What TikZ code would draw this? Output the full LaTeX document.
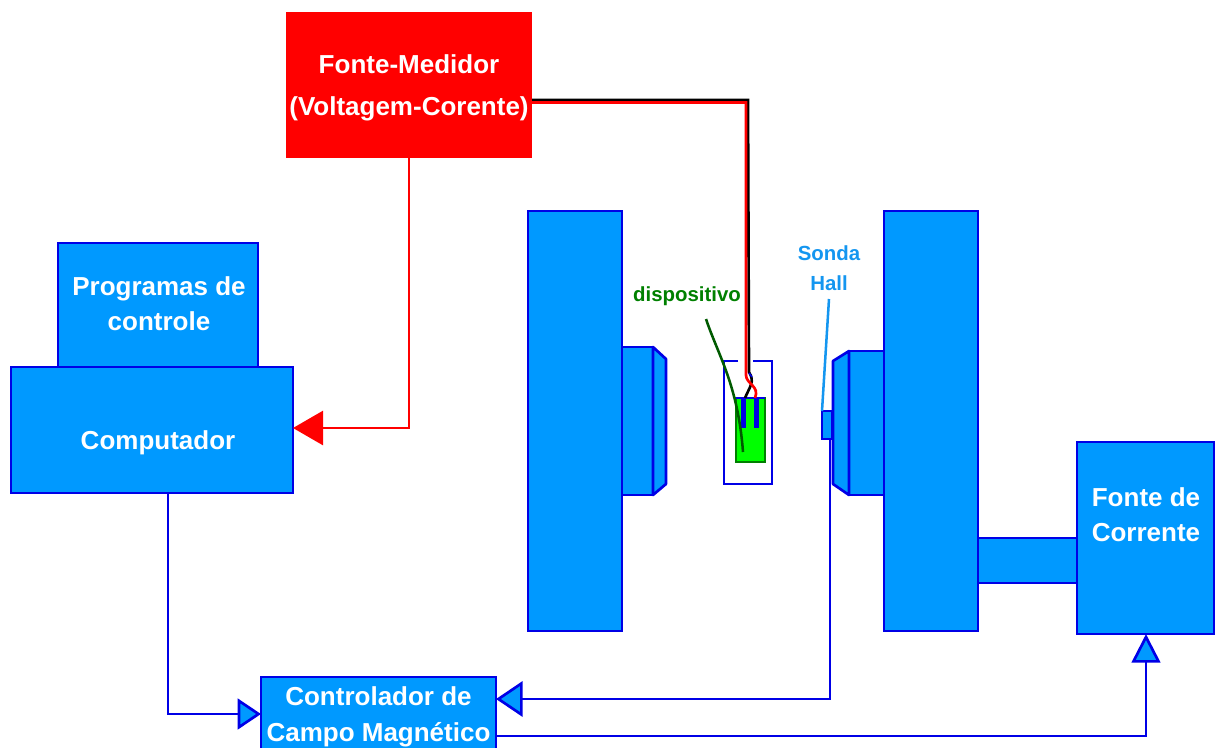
\documentclass[tikz,border=0pt]{standalone}
\usepackage{fontspec}
\setmainfont{Liberation Sans}
\usetikzlibrary{arrows.meta,calc}
\definecolor{fillblue}{RGB}{0,153,255}
\definecolor{edgeblue}{RGB}{0,0,230}
\definecolor{devgreen}{RGB}{0,255,0}
\definecolor{labgreen}{RGB}{0,128,0}
\definecolor{ptrgreen}{RGB}{0,90,0}
\definecolor{halllab}{RGB}{20,150,240}
\tikzset{
  x=0.75pt,y=-0.75pt,
  bluebox/.style={draw=edgeblue,fill=fillblue,line width=2pt,inner sep=0pt,outer sep=0pt,anchor=north west,
     text=white,font=\bfseries\fontsize{19.5}{26}\selectfont,align=center},
  redbox/.style={bluebox,draw=none,fill=red},
  boxtext/.style={text=white,font=\bfseries\fontsize{19.5}{26}\selectfont,align=center,inner sep=0pt},
  bluewire/.style={draw=edgeblue,line width=2pt},
  redwire/.style={draw=red,line width=2pt},
  bluetip/.style 2 args={-{Triangle[length=#1,width=#2,fill=fillblue,line width=2pt]}},
  redtip/.style={-{Triangle[length=22.5pt,width=25.5pt,fill=red]}},
  smalllabel/.style={font=\bfseries\fontsize{15.3}{22.5}\selectfont,align=center,inner sep=0pt},
}
\begin{document}
\begin{tikzpicture}
\useasboundingbox (0,0) rectangle (1215,747);
\clip (0,0) rectangle (1215,747);
% instrument boxes
\node[redbox,minimum width=184.5pt,minimum height=109.5pt] (fonte) at (286,12) {};
\node[boxtext] (fontetext) at (409,87.5) {Fonte-Medidor\\[5.25pt](Voltagem-Corente)};
\node[bluebox,minimum width=150pt,minimum height=93.75pt] (prog) at (58,243) {};
\node[boxtext] (progtext) at (159,303.5) {Programas de\\controle};
\node[bluebox,minimum width=211.5pt,minimum height=94.5pt] (comp) at (11,367) {};
\node[boxtext] (comptext) at (158,443) {Computador};
\node[bluebox,minimum width=176.25pt,minimum height=60pt] (ctrl) at (261,677) {Controlador de\\[1pt]Campo Magnético};
\node[bluebox,minimum width=102.75pt,minimum height=144pt] (corr) at (1077,442) {};
\node[boxtext] (corrtext) at (1146,514.5) {Fonte de\\Corrente};
% magnet
\node[bluebox,minimum width=70.5pt,minimum height=315pt] (magL) at (528,211) {};
\node[bluebox,minimum width=70.5pt,minimum height=315pt] (magR) at (884,211) {};
\node[bluebox,minimum width=74.25pt,minimum height=33.75pt] (yoke) at (978,538) {};
\node[bluebox,minimum width=23.25pt,minimum height=111pt] (poleL) at (622,347) {};
\node[bluebox,minimum width=26.25pt,minimum height=108pt] (poleR) at (849,351) {};
\draw[bluewire,fill=fillblue,line join=round] (poleL.north east) -- (666,359) -- (666,484) -- (poleL.south east) -- cycle;
\draw[bluewire,fill=fillblue,line join=round] (poleR.north west) -- (833,361) -- (833,484) -- (poleR.south west) -- cycle;
% sample holder
\coordinate (gapL) at (738,361);
\coordinate (gapR) at (753,361);
\draw[bluewire] (gapL) -- (724,361) -- (724,484) -- (772,484) -- (772,361) -- (gapR);
\node[draw=labgreen,fill=devgreen,line width=1.2pt,inner sep=0pt,outer sep=0pt,minimum width=21.75pt,minimum height=48pt,anchor=north west] (dev) at (736,398) {};
\node[draw=edgeblue,fill=edgeblue,line width=0.3pt,inner sep=0pt,outer sep=0pt,minimum width=3.4pt,minimum height=22pt,anchor=north west] (padL) at (741,398) {};
\node[draw=edgeblue,fill=edgeblue,line width=0.3pt,inner sep=0pt,outer sep=0pt,minimum width=3.4pt,minimum height=22pt,anchor=north west] (padR) at (754,398) {};
\draw[edgeblue,line width=1.2pt] (dev.north west) -- (dev.north east);
% hall probe
\node[bluebox,minimum width=7.5pt,minimum height=21pt] (hall) at (822,411) {};
% wires
\coordinate (wireA) at (748,100);
\coordinate (wireB) at (746,102.5);
\coordinate (mark) at (749,373);
\draw[black,line width=2pt] (fonte.east |- wireA) -- (wireA) -- (749,372) .. controls (755,382) and (750,386) .. (745,398);
\draw[edgeblue,line width=1.2pt] (mark) -- (752,377);
\draw[red,line width=2pt] (fonte.east |- wireB) -- (wireB) -- (746,375) .. controls (746,384) and (760,386) .. (755,398);
% signal lines
\coordinate (rc) at (409,428);
\draw[redwire,redtip] (fonte.south -| rc) -- (rc) -- (comp.east |- rc);
\coordinate (c1) at (168,714);
\draw[bluewire,bluetip={17.5pt}{23pt}] (comp.south -| c1) -- (c1) -- (ctrl.west |- c1);
\coordinate (c2) at (830,699);
\draw[bluewire,bluetip={20pt}{26.5pt}] (hall.south -| c2) -- (c2) -- (ctrl.east |- c2);
\coordinate (c3) at (1146,736);
\draw[bluewire,bluetip={21.5pt}{21.5pt}] (ctrl.east |- c3) -- (c3) -- (corr.south -| c3);
% labels and pointers
\node[smalllabel,text=labgreen] (devlab) at (687,296) {dispositivo};
\node[smalllabel,text=halllab] (halllabel) at (829,268) {Sonda\\Hall};
\coordinate (devptr) at (706,319);
\coordinate (devend) at (743,452);
\draw[ptrgreen,line width=1.9pt] (devptr) .. controls (718,355) and (738,385) .. (devend);
\coordinate (hallptr) at (829,299);
\draw[halllab,line width=1.9pt] (hallptr) -- (hall.north west);
\end{tikzpicture}
\end{document}
